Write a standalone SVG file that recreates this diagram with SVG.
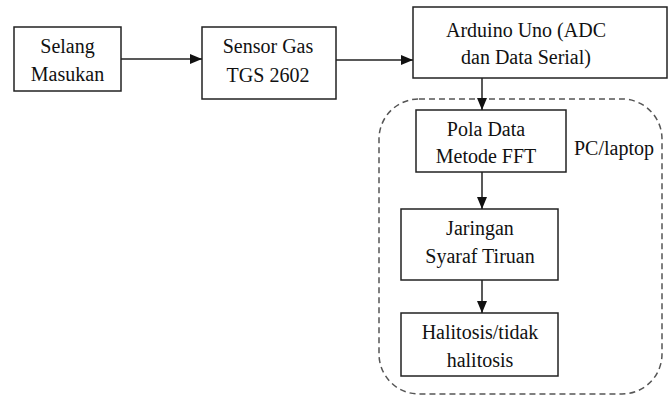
<svg xmlns="http://www.w3.org/2000/svg" width="669" height="398" viewBox="0 0 669 398">
<style>
.box{fill:#fff;stroke:#222;stroke-width:1.5}
.t{font-family:'Liberation Serif','Times New Roman',serif;font-size:20px;fill:#111;text-anchor:middle}
.c{stroke:#222;stroke-width:1.5;fill:none}
</style>
<defs>
<marker id="ah" viewBox="0 0 12 10" refX="12" refY="5" markerWidth="12" markerHeight="10" markerUnits="userSpaceOnUse" orient="auto">
<path d="M0,0 L12,5 L0,10 z" fill="#111"/>
</marker>
</defs>
<rect width="669" height="398" fill="#fff"/>
<g id="pc">
<rect x="379" y="99" width="283" height="295" rx="40" ry="40" fill="none" stroke="#555" stroke-width="1.5" stroke-dasharray="6,4"/>
<text class="t" x="614" y="155">PC/laptop</text>
</g>
<g id="selang">
<rect class="box" x="14" y="27" width="107" height="64"/>
<text class="t" x="67.5" y="53">Selang</text>
<text class="t" x="67.5" y="81">Masukan</text>
</g>
<g id="sensor">
<rect class="box" x="202" y="27" width="134" height="72"/>
<text class="t" x="268" y="53">Sensor Gas</text>
<text class="t" x="268" y="82">TGS 2602</text>
</g>
<g id="arduino">
<rect class="box" x="413" y="7" width="254" height="71"/>
<text class="t" x="526" y="37">Arduino Uno (ADC</text>
<text class="t" x="526" y="64">dan Data Serial)</text>
</g>
<g id="pola">
<rect class="box" x="416" y="110" width="150" height="62"/>
<text class="t" x="486" y="136">Pola Data</text>
<text class="t" x="486" y="163">Metode FFT</text>
</g>
<g id="jst">
<rect class="box" x="401" y="209" width="157" height="71"/>
<text class="t" x="480" y="235">Jaringan</text>
<text class="t" x="480" y="263">Syaraf Tiruan</text>
</g>
<g id="hasil">
<rect class="box" x="401" y="313" width="157" height="63"/>
<text class="t" x="480" y="339">Halitosis/tidak</text>
<text class="t" x="480" y="367">halitosis</text>
</g>
<g id="connectors">
<line class="c" x1="121" y1="59" x2="202" y2="59" marker-end="url(#ah)"/>
<line class="c" x1="336" y1="60" x2="413" y2="60" marker-end="url(#ah)"/>
<line class="c" x1="482" y1="78" x2="482" y2="110" marker-end="url(#ah)"/>
<line class="c" x1="482" y1="172" x2="482" y2="209" marker-end="url(#ah)"/>
<line class="c" x1="482" y1="280" x2="482" y2="313" marker-end="url(#ah)"/>
</g>
</svg>
